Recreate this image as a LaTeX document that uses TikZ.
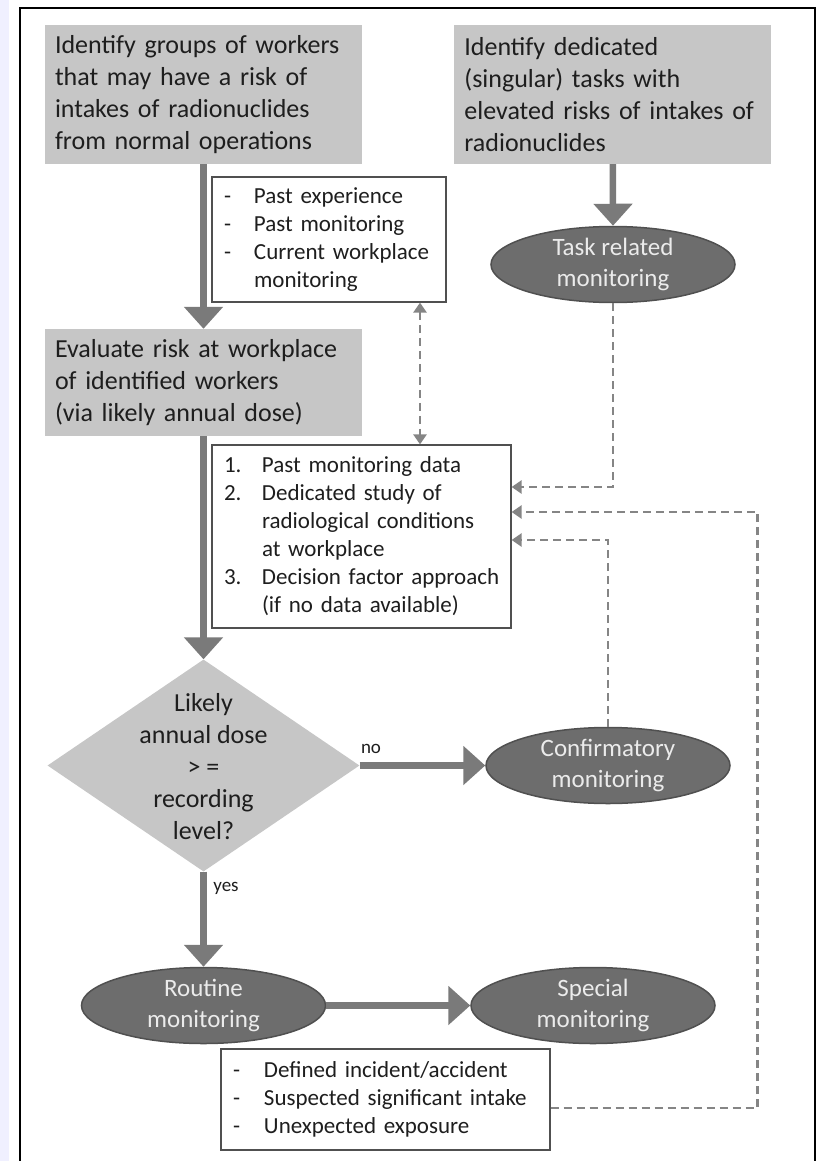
\documentclass[tikz,border=0pt]{standalone}
\usepackage{fontspec}
\setmainfont{Carlito}
\usetikzlibrary{arrows.meta}
\usetikzlibrary{shapes.geometric}
\usetikzlibrary{positioning}

\definecolor{boxgray}{HTML}{C6C6C6}
\definecolor{ovalgray}{HTML}{6D6D6D}
\definecolor{ovalline}{HTML}{505050}
\definecolor{arrowgray}{HTML}{7A7A7A}
\definecolor{dashgray}{HTML}{858585}
\definecolor{textdark}{HTML}{1E1E1E}

\newcommand{\listrow}[3][30pt]{\makebox[#1][l]{#2}\mbox{#3}}

\begin{document}
\begin{tikzpicture}[x=1pt, y=-1pt,
    grayblock/.style={fill=boxgray, text=textdark, font=\fontsize{26}{32}\selectfont, align=left, text width=297pt, inner xsep=10pt, inner ysep=0pt},
    listbox/.style={draw=ovalline, line width=1.2pt, fill=white, text=textdark, font=\fontsize{23}{28}\selectfont, align=left, inner xsep=12pt, inner ysep=0pt},
    oval/.style={ellipse, draw=ovalline, line width=1.5pt, fill=ovalgray, text=white!92!black, font=\fontsize{25}{31}\selectfont, align=center, inner sep=0pt, minimum width=244pt, minimum height=76pt},
    decide/.style={diamond, fill=boxgray, inner sep=0pt, minimum width=312pt, minimum height=212pt},
    dtext/.style={text=textdark, font=\fontsize{26}{32}\selectfont, align=center, inner sep=0pt},
    lbl/.style={text=textdark, font=\fontsize{19}{23}\selectfont, inner sep=0pt},
    flow/.style={draw=arrowgray, line width=6.5pt, -{Triangle[width=38pt,length=22pt]}},
    dashline/.style={draw=dashgray, line width=2.8pt, dash pattern=on 8pt off 5pt},
    >={Triangle[width=13pt,length=10pt]}]
    \useasboundingbox (0,0) rectangle (823,1161);
    \fill [blue!6] (0,0) rectangle (9,1161);
    \draw [line width=2.5pt] (20,1161) -- (20,8) -- (815,8) -- (815,1161);

    \node [grayblock, minimum height=139pt] (idgroups) at (203.5,94.5) {Identify groups of workers\\that may have a risk of\\intakes of radionuclides\\from normal operations};
    \node [grayblock, minimum height=139pt, right = 92pt of idgroups] (idtasks) {Identify dedicated\\(singular) tasks with\\elevated risks of intakes of\\radionuclides};
    \node [listbox, text width=210pt, minimum height=125pt] (past) at (329,239.5) {\listrow{-}{Past experience}\\\listrow{-}{Past monitoring}\\\listrow{-}{Current workplace}\\\listrow{}{monitoring}};
    \node [oval] (taskmon) at (613,264.5) {Task related\\monitoring};
    \node [grayblock, minimum height=107pt] (evalrisk) at (203.5,382.5) {Evaluate risk at workplace\\of identified workers\\(via likely annual dose)};
    \node [listbox, text width=275pt, minimum height=183pt] (methods) at (361.5,536.5) {\listrow[38pt]{1.}{Past monitoring data}\\\listrow[38pt]{2.}{Dedicated study of}\\\listrow[38pt]{}{radiological conditions}\\\listrow[38pt]{}{at workplace}\\\listrow[38pt]{3.}{Decision factor approach}\\\listrow[38pt]{}{(if no data available)}};

    \node [decide] (decision) at (203.5,765.5) {};
    \node [dtext] (decisiontext) at (203.5,767) {Likely\\annual dose\\> =\\recording\\level?};
    \node [oval] (confmon) at (608,765.5) {Confirmatory\\monitoring};
    \node [lbl] (nolbl) at (371,749) {no};
    \node [lbl] (yeslbl) at (226,888) {yes};

    \node [oval] (routmon) at (203.5,1005.5) {Routine\\monitoring};
    \node [oval, right = 144pt of routmon] (specmon) {Special\\monitoring};
    \node [listbox, text width=305pt, minimum height=101pt] (triggers) at (385.5,1099.5) {\listrow[31pt]{-}{Defined incident/accident}\\\listrow[31pt]{-}{Suspected significant intake}\\\listrow[31pt]{-}{Unexpected exposure}};

    \draw [flow] (idgroups.south) -- (evalrisk.north);
    \draw [flow] (idtasks.south) -- (taskmon.north);
    \draw [flow] (evalrisk.south) -- (decision.north);
    \draw [flow] (decision.east) -- (confmon.west);
    \draw [flow] (decision.south) -- (routmon.north);
    \draw [flow] (routmon.east) -- (specmon.west);

    \draw [dashline, <->] ([xshift=91pt]past.south) -- ([xshift=58.5pt]methods.north);
    \draw [dashline, ->] (taskmon.south) |- ([yshift=49.5pt]methods.east);
    \draw [dashline, ->] (confmon.north) |- ([yshift=-3.5pt]methods.east);
    \draw [dashline, ->] ([yshift=-8.5pt]triggers.east) -- ++(207,0) |- ([yshift=24.5pt]methods.east);
\end{tikzpicture}
\end{document}
